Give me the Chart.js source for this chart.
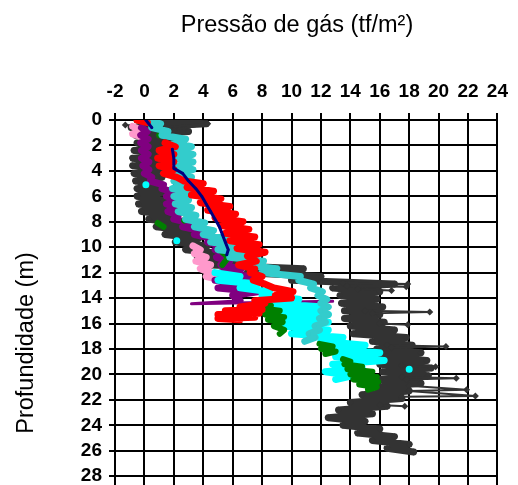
<!DOCTYPE html>
<html>
<head>
<meta charset="utf-8">
<script src="https://cdn.jsdelivr.net/npm/chart.js@4"></script>
<style>
  html, body { margin: 0; padding: 0; background: #fff; overflow: hidden; }
</style>
</head>
<body>
<canvas id="chart" width="518" height="520"></canvas>
<script>
// Pressure ticks (x) and depth ticks (y)
const pressureTicks = [-2, 0, 2, 4, 6, 8, 10, 12, 14, 16, 18, 20, 22, 24];
const depthTicks = [0, 2, 4, 6, 8, 10, 12, 14, 16, 18, 20, 22, 24, 26, 28, 30];

// Each series: [pressure (tf/m2), depth (m)], null = gap
const grayBulk = [
  [-0.5,0.0],[4.2,0.3],[-0.9,0.6],[3.0,0.9],[-0.6,1.2],[2.0,1.5],[-0.5,1.8],[1.6,2.1],[-0.7,2.4],[1.4,2.7],
  [-0.8,3.0],[1.3,3.3],[-0.8,3.6],[1.2,3.9],[-0.7,4.2],[1.2,4.5],[-0.6,4.8],[1.2,5.1],[-0.5,5.4],[1.2,5.7],
  [-0.5,6.0],[1.3,6.3],[-0.4,6.6],[1.7,6.9],[-0.2,7.2],[2.1,7.5],[0.3,7.8],[2.6,8.1],[0.8,8.4],[3.1,8.7],
  [1.4,9.0],[3.7,9.3],[2.1,9.6],[4.3,9.9],[2.8,10.2],[5.2,10.5],[3.6,10.8],[7.5,11.1],[4.6,11.4],[10.8,11.7],
  [7.0,12.0],[12.0,12.3],[10.0,12.6],[17.0,12.9],[12.8,13.2],[16.0,13.5],[13.3,13.8],[15.8,14.1],[13.4,14.4],[16.2,14.7],
  [13.6,15.0],[16.0,15.3],[13.6,15.6],[16.3,15.9],[14.0,16.2],[17.0,16.5],[14.2,16.8],[17.8,17.1],[15.5,17.4],[18.2,17.7],
  [15.8,18.0],[18.8,18.3],[16.0,18.6],[19.2,18.9],[16.0,19.2],[19.5,19.5],[16.2,19.8],[19.3,20.1],[16.0,20.4],[18.8,20.7],
  [15.8,21.0],[18.0,21.3],[14.8,21.6],[17.5,21.9],[14.0,22.2],[16.5,22.5],[13.2,22.8],[15.5,23.1],[12.5,23.4],[15.0,23.7],
  [13.5,24.0],[16.0,24.3],[14.5,24.6],[17.0,24.9],[15.5,25.2],[18.0,25.5],[16.5,25.8],[18.3,26.1]
];
const graySpikes = [
  [-1.3,0.4],[1.0,0.6],[4.3,0.3],[2.0,0.8], null,
  [13.5,12.8],[17.9,12.9],[13.8,13.05],[17.8,13.1], null,
  [14.5,13.3],[16.8,13.4], null,
  [15.0,15.0],[19.4,15.1],[15.5,15.2], null,
  [16.0,16.0],[17.9,16.1], null,
  [16.5,17.7],[20.5,17.8],[16.8,17.9], null,
  [17.5,19.3],[19.8,19.4], null,
  [17.5,20.2],[21.2,20.3],[17.8,20.4], null,
  [18.0,20.9],[21.9,21.2],[18.0,21.3],[22.5,21.7],[17.5,21.75], null,
  [16.0,22.4],[17.7,22.5]
];
const redSeries = [
  [-0.5,0.0],[0.2,0.2], null,
  [1.4,1.8],[2.1,2.1],[1.0,2.4],[2.0,2.7],[0.9,3.0],[2.0,3.3],[1.0,3.6],[2.0,3.9],[1.3,4.2],[2.2,4.5],
  [2.7,4.8],[4.0,5.0],[2.9,5.3],[4.7,5.6],[3.2,5.9],[5.2,6.2],[3.8,6.5],[5.8,6.8],[4.3,7.1],[6.2,7.4],
  [4.8,7.7],[6.7,8.0],[5.2,8.3],[7.1,8.6],[5.5,8.9],[7.5,9.2],[5.8,9.5],[7.8,9.8],[6.3,10.1],[8.2,10.4],
  [7.0,10.7],[7.6,11.1],[6.4,11.4],[7.5,11.7],[7.2,12.0],[8.0,12.3],[7.4,12.6],[8.2,12.9],[8.8,13.2],[10.1,13.5],
  [8.9,13.8],[10.0,14.0],[7.5,14.2],[8.2,14.4],[6.5,14.7],[8.0,14.9],[5.5,15.0],[7.8,15.2],[5.0,15.3],[7.5,15.5],
  [5.0,15.6],[6.5,15.7]
];
const navySeries = [
  [0.1,0.0],[0.5,0.6], null,
  [1.9,2.3],[2.0,3.0],[2.0,3.8],[2.6,4.2],[3.0,4.8],[3.5,5.4],[3.9,6.0],[4.2,6.6],[4.5,7.2],[4.8,7.8],
  [5.1,8.4],[5.3,9.0],[5.5,9.6],[5.7,10.2],[5.6,10.6]
];
const turquoiseSeries = [
  [0.2,0.0],[1.1,0.3],[0.5,0.6],[1.6,0.9],[1.2,1.2],[2.8,1.5],[2.0,1.8],[3.2,2.1],[2.1,2.4],[3.3,2.7],
  [2.1,3.0],[3.3,3.3],[2.2,3.6],[3.3,3.9],[2.1,4.2],[3.2,4.5],[2.0,4.8],[2.9,5.1],[1.9,5.4],[3.0,5.7],
  [2.0,6.0],[3.0,6.3],[2.1,6.6],[3.2,6.9],[2.3,7.2],[3.5,7.5],[2.8,7.8],[4.1,8.1],[3.4,8.4],[4.7,8.7],
  [4.0,9.0],[5.5,9.3],[4.5,9.6],[6.5,9.9],[5.0,10.2],[7.5,10.5],[5.8,10.8],[8.1,11.1],[6.8,11.4],[9.0,11.7],
  [8.0,12.0],[10.6,12.3],[10.5,12.6],[11.5,12.9],[11.3,13.2],[12.1,13.5],[11.8,13.8],[12.4,14.1],[12.0,14.4],[12.5,14.7],
  [12.0,15.0],[12.5,15.3],[11.9,15.6],[12.3,15.9],[11.6,16.2],[11.9,16.5],[11.2,16.8],[11.6,17.1],[10.9,17.4]
];
const cyanSeries = [
  [0.6,0.2],[1.0,0.5], null,
  [0.1,5.1], null,
  [2.2,9.5], null,
  [4.8,12.0],[6.5,12.3],[5.0,12.6],[7.7,12.9],[6.5,13.2],[8.5,13.5],[8.0,13.8],[10.5,14.1],[8.3,14.4],[12.2,14.7],
  [8.8,15.0],[12.5,15.3],[9.2,15.6],[12.5,15.9],[9.3,16.2],[12.5,16.5],[10.0,16.8],[13.5,17.1],[12.0,17.4],[15.0,17.7],
  [12.5,18.0],[16.0,18.3],[13.0,18.6],[16.3,18.9],[12.8,19.2],[14.8,19.5],[12.3,19.8],[14.2,20.1],[13.0,20.4], null,
  [18.0,19.6]
];
const greenSeries = [
  [0.8,0.6],[1.3,0.9],[1.0,1.2], null,
  [2.5,6.6],[3.1,6.9],[2.6,7.2],[3.0,7.5],[2.7,7.9], null,
  [0.9,8.1],[1.3,8.4], null,
  [5.2,10.3],[5.7,10.8],[5.3,11.4], null,
  [7.9,14.4],[8.6,14.6],[7.9,14.8],[9.2,15.0],[8.2,15.3],[9.5,15.5],[8.4,15.7],[9.4,15.9],[8.8,16.2],[9.5,16.5],
  [9.2,16.8], null,
  [11.9,17.6],[12.8,17.8],[12.0,18.0],[13.0,18.2],[12.3,18.4], null,
  [13.5,18.8],[14.0,19.0],[13.6,19.2],[14.8,19.4],[13.8,19.6],[15.5,19.8],[14.0,20.0],[15.8,20.2],[14.2,20.4],[15.9,20.6],
  [14.6,20.8],[15.8,21.0],[15.2,21.2]
];
const purpleSeries = [
  [-0.2,0.6],[0.2,0.9],[-0.25,1.2],[0.25,1.5],[-0.25,1.8],[0.25,2.1],[-0.2,2.4],[0.25,2.7],[-0.2,3.0],[0.3,3.3],
  [-0.1,3.6],[0.3,3.9],[0.0,4.2],[0.5,4.5],[0.4,4.8],[1.3,5.1],[1.2,5.4],[2.0,5.7],[1.5,6.0],[2.2,6.3],
  [1.5,6.6],[2.2,6.9],[1.6,7.2],[2.3,7.5],[2.0,7.8],[3.1,8.1],[2.6,8.4],[3.8,8.7],[3.4,9.0],[4.6,9.3],
  [4.3,9.6],[5.3,9.9],[4.8,10.2],[5.8,10.5],[4.9,10.8],[5.8,11.1],[5.2,11.4],[6.6,11.7],[5.2,12.0],[7.2,12.3],
  [4.8,12.6],[7.6,12.9],[5.0,13.2],[7.7,13.5],[6.0,13.8],[6.5,14.2]
];
const purpleLine = [[6.5,14.2],[3.2,14.45],[12.8,14.25]];
const pinkSeries = [
  [-0.8,0.5],[-0.2,0.8],[-0.8,1.1],[-0.3,1.3], null,
  [3.3,9.9],[3.8,10.2],[3.4,10.5],[4.2,10.8],[3.5,11.1],[4.5,11.4],[3.8,11.7],[4.5,12.0],[4.2,12.3],[4.6,12.4]
];

function toXY(series){
  return series.map(p => p ? {x: p[0], y: p[1]} : {x: null, y: null});
}

function makeSet(series, color, opts){
  return Object.assign({
    data: toXY(series),
    showLine: true,
    spanGaps: false,
    borderColor: color,
    backgroundColor: color,
    borderWidth: 7,
    borderJoinStyle: 'round',
    borderCapStyle: 'round',
    pointStyle: 'rect',
    pointRadius: 2.5,
    pointBorderWidth: 0
  }, opts || {});
}

// Axis titles drawn where the reference puts them
const axisTitles = {
  id: 'axisTitles',
  afterDraw(chart){
    const ctx = chart.ctx;
    ctx.save();
    ctx.fillStyle = '#000';
    ctx.font = '23.5px "Liberation Sans", Arial, sans-serif';
    ctx.textAlign = 'center';
    ctx.textBaseline = 'alphabetic';
    ctx.fillText('Pressão de gás (tf/m²)', 297, 32);
    ctx.translate(33, 343);
    ctx.rotate(-Math.PI / 2);
    ctx.fillText('Profundidade (m)', 0, 0);
    ctx.restore();
  }
};

const tickFont = {family: '"Liberation Sans", Arial, sans-serif', size: 19, weight: 'bold'};

new Chart(document.getElementById('chart').getContext('2d'), {
  type: 'scatter',
  data: {
    datasets: [
      makeSet(navySeries, '#000080', {borderWidth: 3, pointRadius: 1.5}),
      makeSet(redSeries, '#ff0000'),
      makeSet(turquoiseSeries, '#33cccc'),
      makeSet(greenSeries, '#008000', {borderWidth: 6}),
      makeSet(cyanSeries, '#00ffff', {pointRadius: 3}),
      makeSet(purpleLine, '#800080', {borderWidth: 3, pointRadius: 0}),
      makeSet(purpleSeries, '#800080'),
      makeSet(pinkSeries, '#ff99cc'),
      makeSet(graySpikes, '#333333', {borderWidth: 2, pointStyle: 'rectRot', pointRadius: 3.5}),
      makeSet(grayBulk, '#333333', {pointStyle: 'rectRot', pointRadius: 3.5})
    ]
  },
  options: {
    responsive: false,
    animation: false,
    layout: {padding: {left: 0, right: 13, top: 0, bottom: 13}},
    plugins: {legend: {display: false}, tooltip: {enabled: false}},
    scales: {
      x: {
        type: 'linear',
        position: 'top',
        min: pressureTicks[0],
        max: pressureTicks[pressureTicks.length - 1],
        afterFit(scale){ scale.height = 120; },
        afterBuildTicks(scale){ scale.ticks = pressureTicks.map(v => ({value: v})); },
        grid: {color: '#000', lineWidth: 2, tickLength: 7, tickColor: '#000'},
        border: {color: '#000', width: 2},
        ticks: {font: tickFont, color: '#000', padding: 10, maxRotation: 0, autoSkip: false}
      },
      y: {
        type: 'linear',
        reverse: true,
        min: depthTicks[0],
        max: depthTicks[depthTicks.length - 1],
        afterFit(scale){ scale.width = 115; },
        afterBuildTicks(scale){ scale.ticks = depthTicks.map(v => ({value: v})); },
        grid: {color: '#000', lineWidth: 2, tickLength: 6, tickColor: '#000'},
        border: {color: '#000', width: 2},
        ticks: {font: tickFont, color: '#000', padding: 7, autoSkip: false}
      }
    }
  },
  plugins: [axisTitles]
});
</script>
</body>
</html>
